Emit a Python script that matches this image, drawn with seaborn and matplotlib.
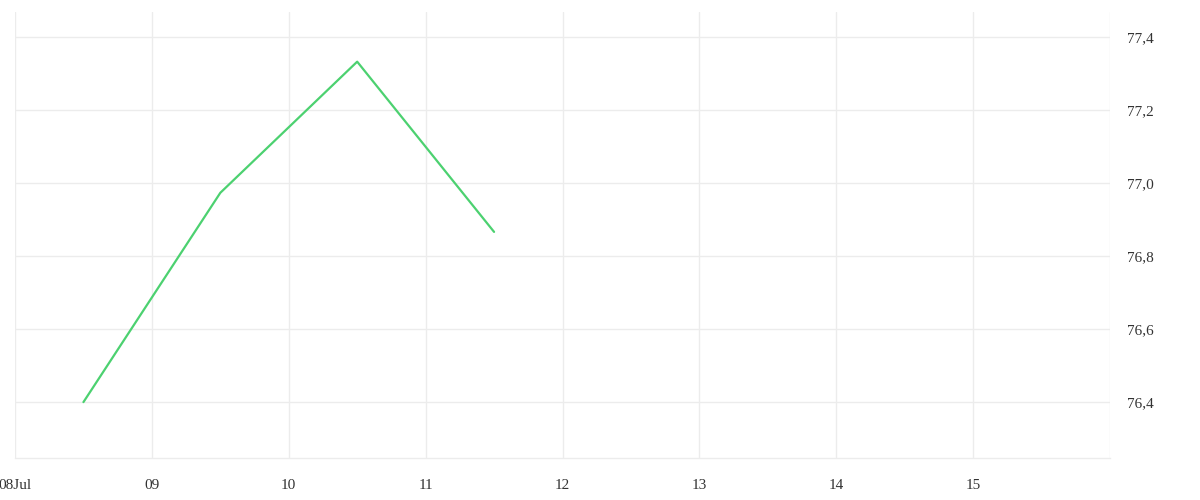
import pandas as pd
import matplotlib
matplotlib.use("Agg")
import matplotlib.pyplot as plt
import matplotlib.ticker as ticker
import matplotlib.dates as mdates
import seaborn as sns

# data
dates = ["2024-07-08 12:00", "2024-07-09 12:00", "2024-07-10 12:00", "2024-07-11 12:00"]
values = [76.40, 76.973, 77.332, 76.866]

tick_days = ["2024-07-08", "2024-07-09", "2024-07-10", "2024-07-11",
             "2024-07-12", "2024-07-13", "2024-07-14", "2024-07-15", "2024-07-16"]
tick_labels = ["08Jul", "09", "10", "11", "12", "13", "14", "15", ""]
y_ticks = [76.4, 76.6, 76.8, 77.0, 77.2, 77.4]

GRID = "#ececec"
LINE = "#4cd170"
TEXT = "#333333"

sns.set_theme(style="white")
plt.rcParams["font.family"] = ["Liberation Serif", "DejaVu Serif"]

df = pd.DataFrame({"date": pd.to_datetime(dates), "value": values})

fig = plt.figure(figsize=(12, 5), dpi=100)
ax = fig.add_axes([15 / 1200, 1 - 458 / 500, 1095 / 1200, 446 / 500])

sns.lineplot(data=df, x="date", y="value", color=LINE, linewidth=1.6, ax=ax)

ax.set_xlim(pd.Timestamp("2024-07-08"), pd.Timestamp("2024-07-16"))
ax.set_ylim(76.247, 77.468)

ax.set_xticks(mdates.date2num(pd.to_datetime(tick_days)))
ax.set_xticklabels(tick_labels)
ax.set_yticks(y_ticks)
ax.yaxis.set_major_formatter(ticker.FuncFormatter(lambda v, _: f"{v:.1f}".replace(".", ",")))
ax.yaxis.tick_right()

ax.grid(True, color=GRID, linewidth=1)
ax.tick_params(axis="x", length=7.5, width=1, color=GRID, pad=7.5, labelsize=11, labelcolor=TEXT)
ax.tick_params(axis="y", length=0, pad=12, labelsize=11, labelcolor=TEXT)

for side in ["top", "left", "right"]:
    ax.spines[side].set_visible(False)
ax.spines["bottom"].set_color(GRID)
ax.spines["bottom"].set_linewidth(1)

ax.set_xlabel("")
ax.set_ylabel("")

plt.savefig("out.png", dpi=100)
plt.close()
